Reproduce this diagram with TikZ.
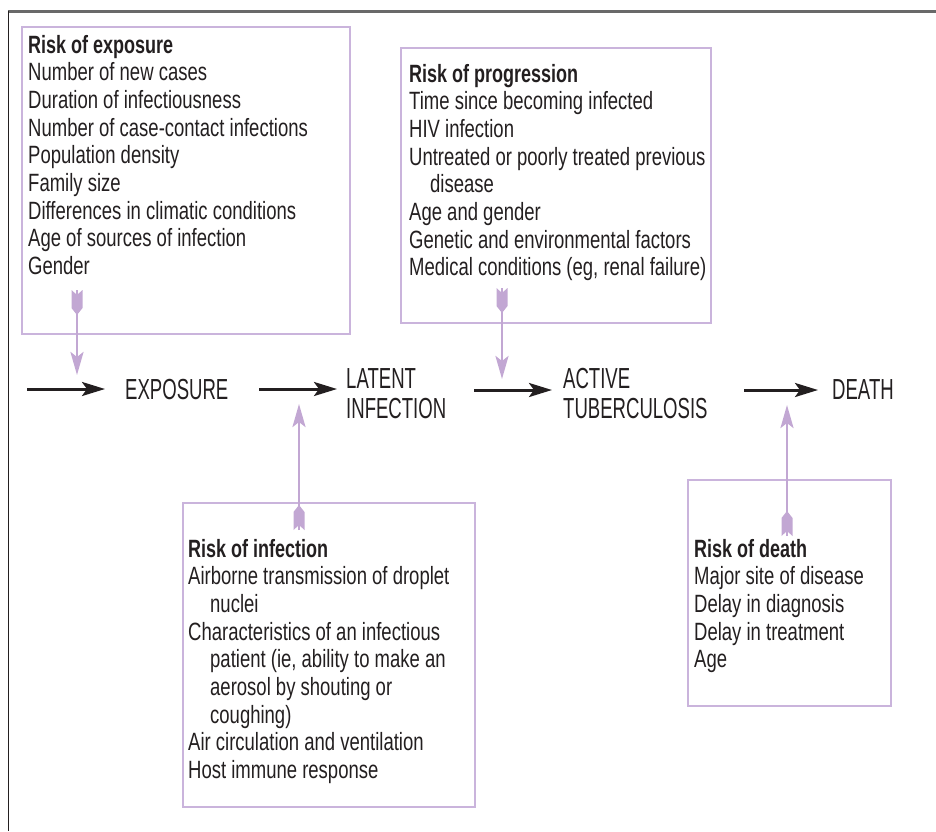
\documentclass[tikz,border=0pt]{standalone}
\usepackage{fontspec}
\setmainfont{Liberation Sans}[FakeStretch=0.74, BoldFeatures={FakeStretch=0.72}]
\newfontfamily\flowfont{Liberation Sans}[FakeStretch=0.64]
\usetikzlibrary{arrows.meta}
\definecolor{ink}{HTML}{231F20}
\definecolor{lilac}{RGB}{194,167,211}
\definecolor{boxline}{RGB}{202,180,220}
\definecolor{framegray}{RGB}{105,105,105}
\begin{document}
\begin{tikzpicture}[x=1pt,y=-1pt,
  riskbox/.style={draw=boxline,line width=1.6pt,rectangle,inner sep=0pt,anchor=north west},
  risktext/.style={inner sep=0pt,anchor=base west,text=ink,font=\fontsize{25}{27.7}\selectfont},
  stage/.style={inner sep=0pt,anchor=base west,text=ink,font=\flowfont\fontsize{29}{30}\selectfont},
  flowarrow/.style={draw=ink,line width=3pt,-{Stealth[length=23pt,width=14pt,inset=5pt]}},
  factorarrow/.style={draw=lilac,line width=2.8pt,-{Stealth[length=23pt,width=13pt,inset=5pt]}},
  fletch/.pic={\fill[lilac] (-5.5,0) -- (0,-5) -- (5.5,0) -- (5.5,-18) -- (0,-25) -- (-5.5,-18) -- cycle;}
]
\useasboundingbox (0,0) rectangle (936,831);
% frame
\draw[framegray, line width=2.5pt] (8,11.5) -- (936,11.5);
\draw[ink, line width=1.5pt] (8.5,11) -- (8.5,831);

% boxes
\node[riskbox, minimum width=328pt, minimum height=307pt] (box1) at (21,26) {};
\node[riskbox, minimum width=310pt, minimum height=275pt] (box2) at (400,47) {};
\node[riskbox, minimum width=292pt, minimum height=304pt] (box3) at (182,502) {};
\node[riskbox, minimum width=203pt, minimum height=226pt] (box4) at (687,479) {};

% box texts
\node[risktext] (t1) at (28,53) {\begin{tabular}[t]{@{}l@{}}\textbf{Risk of exposure}\\
Number of new cases\\
Duration of infectiousness\\
Number of case-contact infections\\
Population density\\
Family size\\
Differences in climatic conditions\\
Age of sources of infection\\
Gender\end{tabular}};

\node[risktext] (t2) at (409,82) {\begin{tabular}[t]{@{}l@{}}\textbf{Risk of progression}\\
Time since becoming infected\\
HIV infection\\
Untreated or poorly treated previous\\
\hspace*{21pt}disease\\
Age and gender\\
Genetic and environmental factors\\
Medical conditions (eg, renal failure)\end{tabular}};

\node[risktext] (t3) at (188,557) {\begin{tabular}[t]{@{}l@{}}\textbf{Risk of infection}\\
Airborne transmission of droplet\\
\hspace*{22pt}nuclei\\
Characteristics of an infectious\\
\hspace*{22pt}patient (ie, ability to make an\\
\hspace*{22pt}aerosol by shouting or\\
\hspace*{22pt}coughing)\\
Air circulation and ventilation\\
Host immune response\end{tabular}};

\node[risktext] (t4) at (694,557) {\begin{tabular}[t]{@{}l@{}}\textbf{Risk of death}\\
Major site of disease\\
Delay in diagnosis\\
Delay in treatment\\
Age\end{tabular}};

% stages
\node[stage] (exposure) at (125,399) {EXPOSURE};
\node[stage] (latent) at (346,388) {\begin{tabular}[t]{@{}l@{}}LATENT\\ INFECTION\end{tabular}};
\node[stage] (active) at (563,388) {\begin{tabular}[t]{@{}l@{}}ACTIVE\\ TUBERCULOSIS\end{tabular}};
\node[stage] (death) at (832,399) {DEATH};

% flow arrows
\coordinate (start) at (27,389);
\draw[flowarrow] (start) -- ([shift={(-20,-10)}]exposure.base west);
\draw[flowarrow] ([shift={(134,-10)}]exposure.base west) -- ([shift={(-9,1)}]latent.base west);
\draw[flowarrow] ([shift={(128,2)}]latent.base west) -- ([shift={(-11,2)}]active.base west);
\draw[flowarrow] ([shift={(181,2)}]active.base west) -- ([shift={(-14,-9)}]death.base west);

% factor arrows
\coordinate (fA) at (77,290);   \coordinate (hA) at (77,375);
\coordinate (fB) at (299,530);  \coordinate (hB) at (299,404);
\coordinate (fC) at (502,288);  \coordinate (hC) at (502,379);
\coordinate (fD) at (787,536);  \coordinate (hD) at (787,405);
\draw[factorarrow] (fA) -- (hA);
\draw[factorarrow] (fB) -- (hB);
\draw[factorarrow] (fC) -- (hC);
\draw[factorarrow] (fD) -- (hD);
\pic[rotate=180] at (fA) {fletch};
\pic at (fB) {fletch};
\pic[rotate=180] at (fC) {fletch};
\pic at (fD) {fletch};
\end{tikzpicture}
\end{document}
